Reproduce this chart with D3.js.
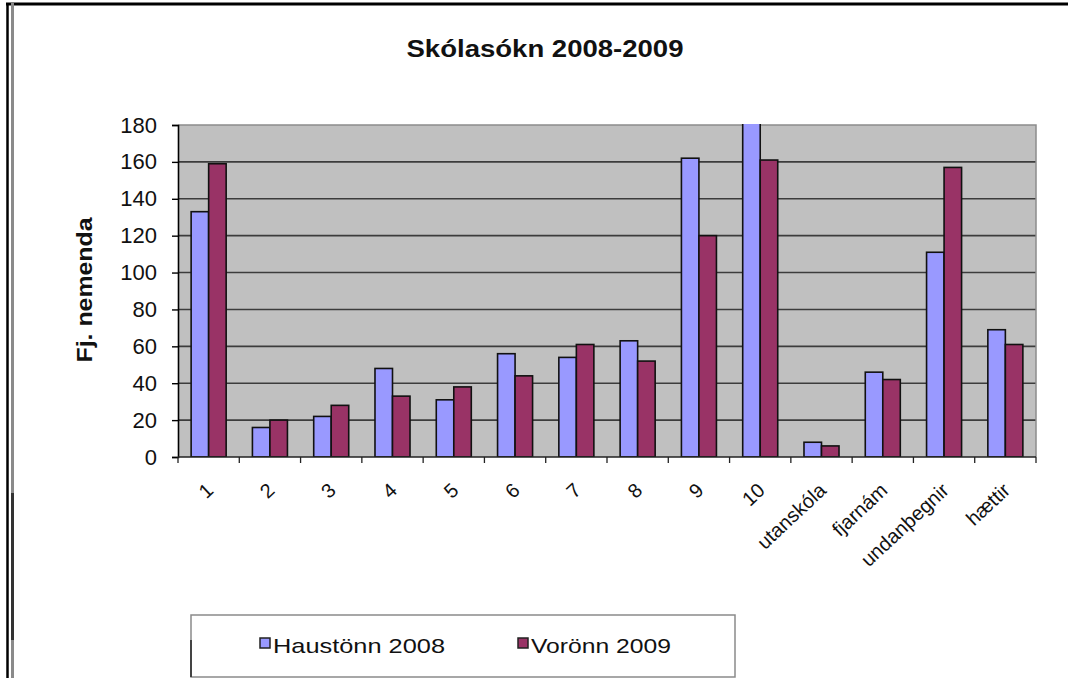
<!DOCTYPE html>
<html>
<head>
<meta charset="utf-8">
<script src="https://cdn.jsdelivr.net/npm/d3@7/dist/d3.min.js"></script>
<style>
  html, body { margin: 0; padding: 0; background: #fff; }
  svg { display: block; font-family: Arial, "Liberation Sans", sans-serif; }
</style>
</head>
<body>
<svg id="chart" width="1068" height="678"></svg>
<script>
const categories = ["1","2","3","4","5","6","7","8","9","10","utanskóla","fjarnám","undanþegnir","hættir"];
const haust2008 = [133,16,22,48,31,56,54,63,162,185,8,46,111,69];
const vor2009   = [159,20,28,33,38,44,61,52,120,161,6,42,157,61];
const seriesNames = ["Haustönn 2008","Vorönn 2009"];
const yTicks = [0,20,40,60,80,100,120,140,160,180];
const chartTitle = "Skólasókn 2008-2009";
const yTitle = "Fj. nemenda";

const colors = ["#9999ff","#993366"];
const svg = d3.select("#chart");
const W = 1068, H = 678;
const plot = {left:178, right:1036, top:125, bottom:457};

svg.append("rect").attr("width",W).attr("height",H).attr("fill","#fff");

// outer frame lines
svg.append("line").attr("x1",6).attr("x2",W).attr("y1",4).attr("y2",4).attr("stroke","#000").attr("stroke-width",3);
svg.append("line").attr("x1",7.5).attr("x2",7.5).attr("y1",3).attr("y2",H).attr("stroke","#000").attr("stroke-width",2.5);
svg.append("line").attr("x1",12.5).attr("x2",12.5).attr("y1",3).attr("y2",H).attr("stroke","#8a8a8a").attr("stroke-width",3);
svg.append("line").attr("x1",12.5).attr("x2",12.5).attr("y1",493).attr("y2",640).attr("stroke","#333").attr("stroke-width",3);

const x = d3.scaleBand().domain(categories).range([plot.left, plot.right]).paddingInner(1.5/3.5).paddingOuter(0.75/3.5);
const y = d3.scaleLinear().domain([0,180]).range([plot.bottom, plot.top]);
const step = x.step();

// plot background
svg.append("rect").attr("x",plot.left).attr("y",plot.top).attr("width",plot.right-plot.left).attr("height",plot.bottom-plot.top).attr("fill","#c0c0c0");

// gridlines
svg.append("g").selectAll("line").data(yTicks.filter(t=>t>0 && t<180)).join("line")
  .attr("x1",plot.left).attr("x2",plot.right).attr("y1",d=>y(d)).attr("y2",d=>y(d))
  .attr("stroke","#3c3c3c").attr("stroke-width",1.6);

// plot border top/right
svg.append("path").attr("d",`M${plot.left},${plot.top}H${plot.right}V${plot.bottom}`).attr("fill","none").attr("stroke","#8c8c8c").attr("stroke-width",1.5);

// clip
svg.append("clipPath").attr("id","clip").append("rect")
  .attr("x",plot.left-2).attr("y",plot.top-1).attr("width",plot.right-plot.left+4).attr("height",plot.bottom-plot.top+1);

const bw = x.bandwidth()/2;
const data = categories.map((c,i)=>({c, vals:[haust2008[i], vor2009[i]]}));
const bars = svg.append("g").attr("clip-path","url(#clip)");
bars.selectAll("g").data(data).join("g").each(function(d){
  d3.select(this).selectAll("rect").data(d.vals).join("rect")
    .attr("x",(v,j)=>x(d.c)+j*bw)
    .attr("y",v=>y(v))
    .attr("width",bw)
    .attr("height",v=>y(0)-y(v))
    .attr("fill",(v,j)=>colors[j])
    .attr("stroke","#111").attr("stroke-width",1.6);
});

// y axis
const yAxis = d3.axisLeft(y).tickValues(yTicks).tickSize(6).tickPadding(19);
const ya = svg.append("g").attr("transform",`translate(${plot.left},0)`).call(yAxis);
ya.select(".domain").attr("stroke","#000").attr("stroke-width",1.6);
ya.selectAll(".tick line").attr("stroke","#000").attr("stroke-width",1.4);
ya.selectAll(".tick text").attr("font-size",22).attr("fill","#111").attr("font-family","Arial, 'Liberation Sans', sans-serif").attr("dx",4);

// x axis line + ticks between categories
svg.append("line").attr("x1",plot.left).attr("x2",plot.right).attr("y1",plot.bottom).attr("y2",plot.bottom).attr("stroke","#222").attr("stroke-width",1.6);
const boundaries = d3.range(categories.length+1).map(i=>plot.left+i*step);
svg.append("g").selectAll("line").data(boundaries).join("line")
  .attr("x1",d=>d).attr("x2",d=>d).attr("y1",plot.bottom).attr("y2",plot.bottom+6)
  .attr("stroke","#222").attr("stroke-width",1.3);

// x labels
svg.append("g").selectAll("text").data(categories).join("text")
  .attr("transform",d=>`translate(${x(d)+x.bandwidth()/2+6},${plot.bottom+35}) rotate(-43)`)
  .attr("text-anchor","end")
  .attr("font-size",20)
  .attr("fill","#111")
  .text(d=>d);

// title
svg.append("text").attr("x",545).attr("y",57).attr("text-anchor","middle")
  .attr("font-size",23).attr("font-weight","bold").attr("fill","#111")
  .attr("textLength",277).attr("lengthAdjust","spacingAndGlyphs")
  .text(chartTitle);

// y title
svg.append("text").attr("transform","translate(92,290) rotate(-90)").attr("text-anchor","middle")
  .attr("font-size",22).attr("font-weight","bold").attr("fill","#111")
  .attr("textLength",145).attr("lengthAdjust","spacingAndGlyphs")
  .text(yTitle);

// legend
const lg = svg.append("g");
lg.append("rect").attr("x",191).attr("y",615).attr("width",544).attr("height",62)
  .attr("fill","#fff").attr("stroke","#8a8a8a").attr("stroke-width",1.5);
lg.append("line").attr("x1",191).attr("x2",191).attr("y1",640).attr("y2",677).attr("stroke","#444").attr("stroke-width",2);
const legendItems = [
  {name:seriesNames[0], sx:260, tx:273, len:172},
  {name:seriesNames[1], sx:518, tx:531, len:140}
];
legendItems.forEach((it,i)=>{
  lg.append("rect").attr("x",it.sx).attr("y",638).attr("width",10).attr("height",10)
    .attr("fill",colors[i]).attr("stroke","#222").attr("stroke-width",1.5);
  lg.append("text").attr("x",it.tx).attr("y",653).attr("font-size",21).attr("fill","#111")
    .attr("textLength",it.len).attr("lengthAdjust","spacingAndGlyphs").text(it.name);
});
</script>
</body>
</html>
